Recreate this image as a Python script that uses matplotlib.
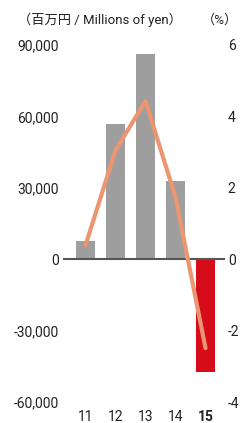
import matplotlib
matplotlib.use("Agg")
import matplotlib.pyplot as plt
import numpy as np

years = ["11", "12", "13", "14", "15"]
income = [7600, 56700, 86100, 32800, -47400]      # millions of yen
ratio = [0.39, 3.05, 4.43, 1.74, -2.49]           # %
left_ticks = [-60000, -30000, 0, 30000, 60000, 90000]
right_ticks = [-4, -2, 0, 2, 4, 6]

GRAY = "#9d9e9d"
RED = "#d70c1b"
SALMON = "#ec9571"
TXT = "#222222"

plt.rcParams['font.family'] = ['Roboto', 'Noto Sans CJK JP', 'DejaVu Sans']


def main():
	fig = plt.figure(figsize=(2.43, 4.23), dpi=100)
	ax = fig.add_axes([63 / 243, 21 / 423, 162 / 243, 357 / 423])
	x = np.arange(len(years))
	colors = [GRAY] * 4 + [RED]
	ax.bar(x, income, width=0.63, color=colors, zorder=2)
	ax.axhline(0, color="#555555", lw=1.5, zorder=3)
	ax.set_ylim(-60000, 90000)
	ax.set_xlim(-0.75, 4.65)
	ax.set_yticks(left_ticks)
	ax.set_yticklabels([f"{v:,}" for v in left_ticks])
	ax.set_xticks(x)
	ax.set_xticklabels(years)
	for lab in ax.get_xticklabels():
		if lab.get_text() == "15":
			lab.set_fontweight("bold")
			lab.set_color("black")
	ax.tick_params(length=0, labelsize=10, colors=TXT)
	ax.tick_params(axis="y", pad=3)
	ax.tick_params(axis="x", pad=6)
	for s in ax.spines.values():
		s.set_visible(False)

	ax2 = ax.twinx()
	ax2.plot(x, ratio, color=SALMON, lw=3, solid_capstyle="round", zorder=4)
	ax2.set_ylim(-4, 6)
	ax2.set_yticks(right_ticks)
	ax2.set_yticklabels([str(v) for v in right_ticks])
	ax2.tick_params(length=0, labelsize=10, colors=TXT, pad=2)
	for s in ax2.spines.values():
		s.set_visible(False)

	fig.text(18 / 243, 1 - 20 / 423, "（百万円 / Millions of yen）", fontsize=9.5,
		color=TXT, va="center", ha="left")
	fig.text(238 / 243, 1 - 20 / 423, "（%）", fontsize=9.5,
		color=TXT, va="center", ha="right")
	fig.savefig("out.png", dpi=100)


if __name__ == "__main__":
	main()
